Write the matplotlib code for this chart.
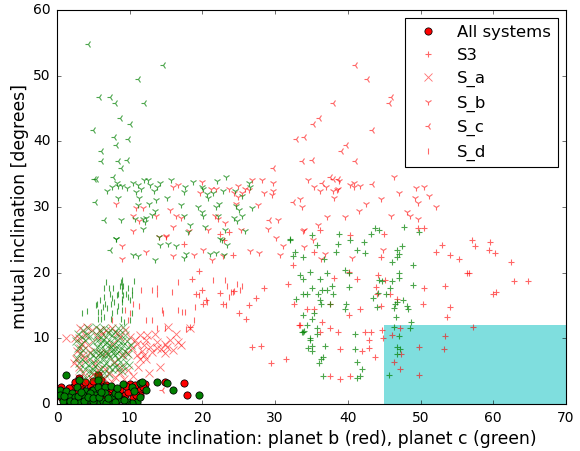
import matplotlib
matplotlib.use("Agg")
import matplotlib.pyplot as plt

# points as (inclination, mutual inclination)
s3_red = [(36.2,26.5),(50.5,26.8),(49.6,26.8),(45.0,25.9),(40.3,25.8),(57.1,25.0),(59.5,24.6),(57.5,24.1),(52.9,24.2),
    (59.4,23.4),(60.3,23.0),(52.1,23.1),(54.1,22.7),(55.3,22.1),(35.4,23.1),(44.6,22.4),(62.5,21.6),(32.4,21.2),
    (56.4,19.9),(56.6,20.0),(40.1,20.1),(44.2,19.6),(38.1,19.2),(41.2,19.1),(45.1,18.9),(62.9,18.7),(64.8,18.8),
    (31.7,18.2),(50.5,17.6),(53.4,17.9),(43.9,17.8),(60.0,16.8),(60.4,17.0),(45.8,16.8),(44.0,16.8),(46.8,16.0),
    (32.6,15.3),(37.6,15.2),(50.4,15.2),(44.5,14.9),(54.0,14.8),(34.4,14.4),(35.4,14.5),(41.7,14.5),(40.1,13.6),
    (53.6,13.2),(36.4,12.5),(33.4,12.1),(37.6,11.6),(47.2,11.6),(57.2,11.7),(44.7,11.3),(38.7,10.9),(36.2,11.0),
    (42.4,10.9),(43.2,11.0),(46.1,10.5),(53.4,10.4),(42.9,9.8),(44.8,10.1),(38.9,8.4),(49.8,8.7),(53.2,8.4),
    (42.9,8.6),(42.0,8.0),(47.3,7.6),(31.5,6.8),(43.8,7.1),(46.4,6.4),(47.2,5.3),(37.5,4.3),(38.9,3.8),(40.3,4.3),
    (49.8,4.4),(19.5,20.3),(18.5,19.1),(19.1,16.7),(20.0,17.4),(20.5,15.8),(20.1,15.3),(22.4,16.9),(22.8,15.2),
    (24.3,17.2),(25.0,13.9),(22.4,25.9),(23.6,26.2),(22.9,24.9),(24.2,22.7),(17.5,24.4),(18.3,11.7),
    (28.4,17.6),(27.4,16.2),(26.4,15.1),(26.0,13.0),(26.8,8.7),(28.1,8.9),(29.4,6.3),(33.3,12.1)]
s3_green = [(35.1,25.8),(38.8,25.9),(43.2,25.9),(43.8,26.8),(44.3,26.5),(47.7,26.9),(49.8,26.2),(32.1,25.0),(40.3,24.9),
    (38.7,24.4),(35.7,24.2),(42.2,24.6),(47.5,24.1),(32.7,23.2),(32.5,22.6),(33.8,22.4),(38.4,23.1),(41.2,23.4),
    (42.3,23.0),(46.8,23.4),(47.0,22.8),(46.8,22.4),(36.7,22.1),(46.1,21.7),(48.9,21.2),(33.4,19.6),(33.8,19.1),
    (34.8,20.1),(37.1,20.0),(36.2,19.1),(39.6,20.4),(40.1,20.0),(47.1,19.9),(47.0,19.2),(44.3,18.9),(44.7,18.7),
    (46.1,18.8),(49.0,18.1),(35.1,17.6),(36.5,17.4),(37.2,17.3),(37.8,17.9),(37.9,16.8),(33.8,16.8),(34.4,16.8),
    (35.9,16.7),(40.1,17.8),(45.8,17.6),(45.3,16.8),(44.1,16.9),(43.4,16.2),(32.9,16.0),(36.2,15.8),(36.3,15.2),
    (37.6,15.2),(39.7,15.2),(39.6,14.5),(44.0,14.8),(46.3,14.6),(46.5,15.2),(46.8,15.6),(47.6,15.8),(48.1,14.9),
    (48.3,14.4),(33.8,13.6),(35.3,13.8),(35.1,13.0),(46.6,13.2),(48.7,12.5),(34.4,12.1),(46.3,11.7),(48.5,11.6),
    (35.7,11.6),(33.8,11.0),(33.9,11.1),(33.7,10.9),(35.7,10.6),(34.8,10.1),(34.8,9.7),(41.0,10.6),(47.0,10.3),
    (36.8,8.9),(34.5,8.6),(35.1,8.8),(35.0,8.1),(41.0,8.4),(46.8,8.7),(47.2,8.4),(46.7,7.6),(36.6,7.1),(36.3,6.9),
    (36.0,6.3),(41.3,6.4),(41.9,5.3),(36.6,4.3),(41.7,4.3),(41.3,3.9),(45.6,4.4),(32.1,25.1)]
sa_red = [(1.2,10.1),(2.5,10.1),(3.2,11.5),(4.1,11.8),(5.9,11.3),(10.0,10.2),(11.4,10.5),(12.4,10.5),(13.5,10.7),
    (15.3,11.8),(16.3,10.7),(18.3,11.5),(10.7,9.7),(13.7,9.5),(14.9,9.2),(15.1,8.7),(17.0,9.0),(16.0,8.2),(14.9,7.7),
    (12.8,8.7),(11.9,9.0),(10.3,8.5),(11.0,7.4),(11.4,6.9),(11.9,7.4),(12.3,6.9),(14.2,5.7),(11.2,5.7),(12.7,4.7),
    (9.6,7.7),(2.3,6.2),(3.0,5.7),(3.6,7.4),(3.2,8.5),(3.4,9.2),(3.0,10.0),(5.7,5.2),(7.1,4.7),(8.0,4.1),(6.4,3.9),
    (7.8,6.4),(6.8,7.7),(5.5,10.2),(8.7,5.7),(3.6,4.7),(4.5,4.1),(6.2,10.7),(7.5,9.2),(9.4,11.2),(4.3,9.0),(2.7,8.0),
    (8.7,4.7),(3.0,3.9),(5.2,6.2),(8.9,7.4),(3.9,6.9),(5.9,7.7),(6.8,11.3),(8.7,10.2),(4.8,11.2),(7.6,11.5),(8.2,10.8),
    (3.8,10.5),(2.6,6.9),(4.6,7.9),(5.0,4.5),(6.6,5.3),(7.5,3.4),(9.2,3.8),(9.8,5.2),(10.4,4.2),(11.0,9.2),(11.7,8.0),
    (13.0,7.9),(13.8,8.5),(14.3,8.4),(15.5,9.7),(12.2,9.8),(16.6,9.5)]
sa_green = [(2.9,10.7),(3.6,11.3),(4.3,11.5),(3.4,10.2),(4.1,10.5),(2.9,8.5),(3.2,7.7),(5.9,11.3),(6.1,10.2),(5.5,10.5),
    (6.8,10.2),(7.5,10.5),(8.4,11.5),(9.1,11.8),(8.0,11.0),(8.7,10.7),(7.3,11.3),(9.4,10.5),(5.9,9.2),(6.6,9.2),
    (5.5,8.7),(6.1,8.5),(7.1,9.0),(7.8,9.2),(8.4,9.7),(9.1,9.0),(9.8,8.7),(8.7,8.2),(7.5,8.2),(6.8,8.0),(5.9,7.7),
    (5.2,8.0),(8.0,7.4),(9.1,7.4),(8.4,6.9),(7.3,7.2),(6.4,6.9),(5.5,6.9),(4.5,6.9),(3.9,6.4),(4.8,6.2),(5.7,6.2),
    (6.8,6.2),(7.8,6.2),(9.1,5.7),(3.9,5.4),(5.0,5.4),(6.1,5.4),(7.5,5.4),(4.8,4.9),(5.5,4.7),(8.7,6.4),
    (2.6,9.6),(3.3,9.2),(3.8,9.7),(4.6,10.3),(2.7,7.0),(3.0,6.3),(3.4,6.9),(3.2,5.4),(3.6,8.2),(5.3,11.7),(6.4,11.5),
    (7.0,10.8),(7.9,10.0),(8.9,9.6),(9.6,9.6),(10.2,9.0),(5.0,9.5),(5.6,9.7),(6.3,9.8),(6.9,9.5),(7.4,8.7),(8.0,8.6),
    (8.5,8.8),(9.4,8.0),(9.8,7.6),(5.0,7.4),(5.6,7.5),(6.2,7.6),(6.6,7.4),(7.0,7.6),(7.7,7.7),(8.3,7.8),(4.6,7.8),
    (4.2,6.0),(5.2,5.8),(6.4,5.9),(7.1,5.7),(8.0,5.6),(8.4,5.3),(8.9,5.0),(4.4,5.0),(5.8,4.6),(6.5,4.7),(7.2,4.5),
    (4.8,3.8),(6.0,3.8),(3.5,3.7),(4.0,4.0),(9.5,6.4),(9.9,6.0)]
sb_red = [(34.5,34.1),(35.3,33.0),(36.2,32.4),(37.0,33.0),(38.0,32.4),(38.6,32.8),(38.8,33.9),(38.5,32.6),(40.3,33.4),
    (40.9,33.6),(41.7,33.2),(40.8,33.1),(46.3,34.5),(49.4,32.9),(50.5,33.1),(51.2,31.7),(47.0,32.2),(49.2,31.4),
    (49.6,30.6),(52.1,30.0),(44.6,31.2),(42.5,30.4),(41.5,29.4),(37.1,28.5),(39.6,28.5),(45.9,28.6),(48.1,29.2),
    (48.5,28.7),(49.6,28.2),(33.4,31.2),(33.7,30.0),(38.1,31.4),(35.9,27.2),(33.8,26.4),(35.2,25.0),(31.1,24.0),
    (33.9,23.9),(36.8,22.8),(36.3,22.1),(40.6,22.3),(44.8,23.4),(30.7,22.7),(20.0,33.8),(16.0,33.1),(16.6,33.3),
    (19.7,32.2),(21.2,32.7),(21.8,32.7),(23.7,32.8),(24.9,33.2),(24.4,32.2),(25.8,32.8),(26.4,32.6),(25.4,32.2),
    (26.8,34.1),(28.2,34.1),(29.7,33.6),(28.4,32.2),(29.7,32.5),(29.6,31.8),(8.1,30.4),(10.8,29.9),(11.8,29.9),
    (15.6,29.6),(10.4,28.7),(11.3,27.9),(13.6,28.7),(16.4,28.7),(17.0,28.3),(21.7,28.6),(22.2,28.1),(23.1,27.6),
    (24.6,30.4),(24.9,31.5),(27.6,30.3),(30.4,28.0),(10.5,26.3),(15.0,25.6),(16.0,26.9),(18.1,26.3),(20.8,26.5),
    (25.3,26.5),(29.0,26.6),(33.9,26.5),(30.1,25.3),(9.0,24.0),(8.9,22.1),(12.3,23.1),(16.0,22.5),(18.8,22.7),
    (20.1,23.4),(14.0,25.5),(15.0,25.5),(22.8,22.5),(21.3,22.0),(26.5,23.3),(27.8,23.0)]
sb_green = [(8.1,25.2),(14.0,25.5),(8.4,31.3),(10.4,33.6),(11.1,33.4),(11.9,34.1),(12.5,34.1),(12.8,33.3),(14.2,33.6),
    (13.8,33.0),(13.4,32.5),(11.6,32.8),(10.8,32.3),(9.6,32.9),(8.9,33.2),(8.2,33.7),(8.4,33.2),(7.5,33.1),(6.9,32.5),
    (15.7,34.1),(18.7,33.8),(17.6,33.0),(17.5,32.3),(20.0,33.0),(20.1,32.8),(20.6,32.0),(20.7,31.4),(22.0,33.9),
    (23.3,34.5),(22.8,32.4),(21.5,32.2),(24.5,32.4),(25.4,31.7),(26.4,33.6),(26.6,33.1),(11.3,31.4),(13.6,31.1),
    (15.1,31.4),(11.1,30.3),(12.6,30.4),(17.0,30.3),(19.4,30.0),(19.9,29.3),(20.1,28.6),(22.3,30.5),(21.8,30.0),
    (24.6,30.1),(25.0,29.6),(26.8,29.9),(8.8,28.0),(13.5,29.4),(13.0,28.8),(12.3,28.4),(11.8,28.2),(10.7,28.1),
    (12.1,27.7),(17.4,28.7),(22.1,28.6),(24.3,28.4),(25.5,28.7),(24.7,27.9),(18.3,27.3),(18.0,26.2),(20.3,26.9),
    (11.8,26.6),(25.8,26.4),(23.1,26.5),(22.4,25.2),(8.1,25.1),(10.4,22.7),(11.2,22.5),(13.5,22.0),(14.1,24.2),
    (15.2,24.3),(16.4,24.0),(17.8,22.8),(17.4,22.3),(21.1,22.9),(21.8,23.0),(22.9,22.7),(22.7,25.0),(23.4,24.2)]
sc_red = [(41.0,51.7),(42.6,49.5),(45.9,46.8),(45.7,45.9),(37.9,45.9),(36.0,43.6),(35.2,42.6),(32.9,40.4),(34.0,40.6),
    (43.3,41.7),(39.7,39.4),(39.0,38.6),(33.7,37.0),(35.0,37.2),(41.0,37.0),(37.6,34.5),(38.0,34.2),(38.6,34.2),
    (36.4,33.7),(43.3,33.5),(32.5,30.7),(29.7,36.0),(29.1,28.0),(14.4,2.1)]
sc_green = [(4.3,54.8),(14.6,51.7),(11.1,49.5),(5.8,46.8),(7.3,46.8),(8.0,45.9),(11.9,45.9),(8.6,43.6),(10.0,42.7),
    (5.0,41.7),(7.8,40.6),(9.7,40.4),(8.1,39.4),(6.1,38.6),(6.1,37.0),(8.4,37.0),(9.6,37.2),(8.8,36.0),(7.7,34.5),
    (5.1,34.2),(5.3,34.2),(5.2,30.7),(6.5,28.0),(7.3,23.4)]
sd_red = [(16.6,18.6),(21.4,18.9),(13.0,17.4),(13.7,17.6),(15.8,17.1),(13.8,16.8),(11.6,17.3),(10.5,15.3),(11.3,14.9),
    (14.4,14.3),(14.6,13.8),(16.7,14.3),(17.2,14.0),(17.6,14.0),(19.0,14.7),(19.5,16.6),(20.6,15.6),(10.0,13.8),
    (9.3,14.3),(12.3,12.8),(13.0,12.8),(14.9,11.5),(17.7,11.4),(18.8,12.8),(24.2,17.1),(13.8,11.6),(9.8,12.8),(7.5,12.8),
    (23.1,18.9),(23.4,17.9),(24.8,18.3),(25.5,18.0),(25.1,17.3),(23.9,17.0),(23.7,16.3),(23.2,15.1)]
sd_green = [(6.7,18.6),(9.0,18.9),(10.6,18.8),(6.4,17.6),(7.7,17.6),(8.9,17.9),(9.7,17.6),(10.3,17.3),(7.3,16.8),(6.4,16.3),
    (5.9,15.8),(5.5,15.3),(8.2,16.6),(9.1,16.6),(9.8,16.3),(10.3,16.6),(7.5,16.1),(6.6,15.3),(5.4,15.1),(4.1,14.1),
    (3.4,13.9),(6.0,14.0),(5.7,13.0),(6.1,13.0),(6.4,13.2),(8.7,17.9),(9.0,15.6),(9.0,14.3),(10.1,12.8),(10.3,13.8),
    (5.7,14.0),(7.4,13.0),(7.1,17.6),(8.4,16.8),(9.5,16.8),(7.9,15.5),(8.4,15.0),(8.2,14.2),(8.8,13.0),(9.2,12.5),
    (9.0,16.0),(6.9,14.6),(7.6,13.9),(6.3,14.8),(9.1,18.0),(8.8,18.6),(9.0,17.2),(10.0,15.9),(7.4,15.3)]
all_red = [(17.4,3.2),(17.9,1.4),(14.8,3.3),(12.1,3.0),(11.4,2.1),(11.4,1.4),(10.1,3.0),(5.7,4.4),(3.0,3.9),(0.5,2.6),(0.6,1.1),
    (2.2,2.6),(3.4,2.6),(4.5,2.9),(5.7,3.1),(6.8,2.9),(8.7,2.1),(9.4,1.4),(10.5,0.9),(1.1,1.6),(2.7,1.6),(4.1,1.6),
    (5.5,1.4),(7.1,1.9),(8.2,0.6),(9.8,1.9),(10.7,2.9),(4.1,0.9),(2.0,0.6),(1.6,2.5),(1.7,0.9),(3.0,0.7),(3.5,2.1),
    (4.8,2.2),(5.0,3.5),(6.2,2.2),(6.5,1.1),(7.6,2.3),(7.8,0.9),(9.0,0.8),(9.5,2.7),(10.9,1.4),(11.8,2.6),(6.0,3.7),
    (2.5,3.3),(0.9,0.6),(3.9,3.3)]
all_green = [(1.2,4.4),(3.0,3.7),(13.7,3.3),(15.1,3.2),(16.0,2.1),(19.5,1.4),(11.4,3.2),(11.7,3.3),(12.3,2.1),(9.1,3.0),
    (10.3,2.6),(10.6,2.0),(0.4,2.2),(1.2,2.0),(2.8,2.6),(3.9,2.0),(5.0,2.1),(5.7,3.6),(5.7,2.6),(6.6,2.6),(7.4,2.8),
    (2.1,1.6),(1.6,1.1),(3.2,0.3),(4.5,0.6),(1.3,0.3),(5.9,0.3),(7.3,0.2),(9.7,0.3),(11.0,0.3),(10.3,0.2),(8.7,0.7),
    (3.6,1.4),(5.2,1.4),(6.6,1.6),(7.5,1.1),(2.5,1.1),(0.4,1.4),(4.5,1.6),(8.0,1.6),(0.8,0.5),(1.8,0.4),(2.4,0.3),
    (3.7,0.5),(5.0,0.4),(6.3,0.5),(6.8,0.2),(8.0,0.3),(9.2,0.6),(0.9,1.2),(2.9,1.2),(3.3,1.8),(4.2,1.1),(4.9,0.9),
    (5.8,1.0),(6.0,1.9),(7.0,0.9),(8.4,1.3),(11.4,1.0),(8.2,2.4)]

region_x = [45, 70]
region_y = 12

plt.style.use("classic")
fig = plt.figure(figsize=(7.25, 5.6375), dpi=80, facecolor="white")
ax = fig.add_axes([57/580, 1 - 404/451, 509/580, 394/451])


def xs(pts):
    return [p[0] for p in pts]


def ys(pts):
    return [p[1] for p in pts]


ax.fill_between(region_x, 0, region_y, color="c", alpha=0.5, lw=0)

ax.plot(xs(all_red), ys(all_red), "ro", ms=6.5, mew=0.7, label="All systems")
ax.plot(xs(s3_red), ys(s3_red), "r+", alpha=0.6, mew=1, label="S3")
ax.plot(xs(sa_red), ys(sa_red), "rx", ms=6.5, alpha=0.55, mew=0.8, label="S_a")
ax.plot(xs(sb_red), ys(sb_red), "r1", alpha=0.6, mew=1, label="S_b")
ax.plot(xs(sc_red), ys(sc_red), "r3", alpha=0.6, mew=1, label="S_c")
ax.plot(xs(sd_red), ys(sd_red), "r|", alpha=0.6, mew=1, label="S_d")

ax.plot(xs(all_green), ys(all_green), "go", ms=6.5, mew=0.7)
ax.plot(xs(s3_green), ys(s3_green), "g+", alpha=0.7, mew=1)
ax.plot(xs(sa_green), ys(sa_green), "gx", ms=6.5, alpha=0.55, mew=0.8)
ax.plot(xs(sb_green), ys(sb_green), "g1", alpha=0.7, mew=1)
ax.plot(xs(sc_green), ys(sc_green), "g3", alpha=0.7, mew=1)
ax.plot(xs(sd_green), ys(sd_green), "g|", alpha=0.7, mew=1)

ax.set_xlim(0, 70)
ax.set_ylim(0, 60)
ax.set_xlabel("absolute inclination: planet b (red), planet c (green)", fontsize=15.5, labelpad=5)
ax.set_ylabel("mutual inclination [degrees]", fontsize=15.5, labelpad=3)
ax.tick_params(labelsize=12.5, pad=6)
ax.legend(loc="upper right", numpoints=1, fontsize=14.8, labelspacing=0.5)

fig.savefig("out.png", dpi=80, facecolor="white")
